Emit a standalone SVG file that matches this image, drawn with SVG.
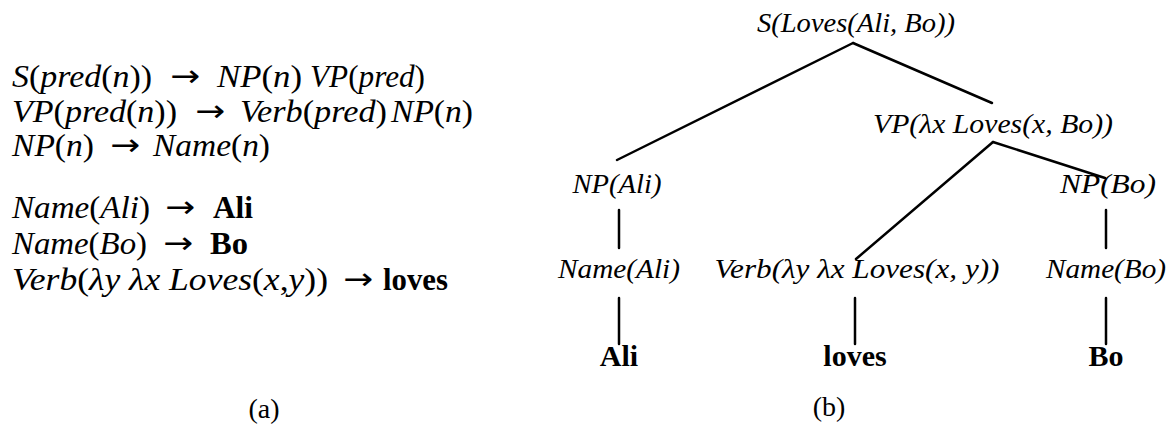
<svg xmlns="http://www.w3.org/2000/svg" width="1171" height="425" viewBox="0 0 1171 425">
<style>
text{font-family:"Liberation Serif",serif;fill:#000}
.r{font-size:32px;font-style:italic}
.u{font-style:normal}
.a{font-size:30px;font-family:"DejaVu Sans",sans-serif}
.b{font-size:32px;font-weight:bold}
.t{font-size:28px;font-style:italic;text-anchor:middle}
.leaf{font-size:30px;font-weight:bold;text-anchor:middle}
.cap{font-size:28px;text-anchor:middle}
.e line{stroke:#000;stroke-width:2.5;stroke-linecap:round}
</style>
<rect width="1171" height="425" fill="#fff"/>
<g id="rules">
<text class="r" x="12" y="87" textLength="140" lengthAdjust="spacingAndGlyphs">S<tspan class="u">(</tspan>pred<tspan class="u">(</tspan>n<tspan class="u">))</tspan></text>
<text class="a" x="170" y="86" textLength="30" lengthAdjust="spacingAndGlyphs">→</text>
<text class="r" x="217" y="87" textLength="85" lengthAdjust="spacingAndGlyphs">NP<tspan class="u">(</tspan>n<tspan class="u">)</tspan></text>
<text class="r" x="310" y="87" textLength="115" lengthAdjust="spacingAndGlyphs">VP<tspan class="u">(</tspan>pred<tspan class="u">)</tspan></text>

<text class="r" x="12" y="122" textLength="165" lengthAdjust="spacingAndGlyphs">VP<tspan class="u">(</tspan>pred<tspan class="u">(</tspan>n<tspan class="u">))</tspan></text>
<text class="a" x="195" y="121" textLength="30" lengthAdjust="spacingAndGlyphs">→</text>
<text class="r" x="240" y="122" textLength="147" lengthAdjust="spacingAndGlyphs">Verb<tspan class="u">(</tspan>pred<tspan class="u">)</tspan></text>
<text class="r" x="391" y="122" textLength="82" lengthAdjust="spacingAndGlyphs">NP<tspan class="u">(</tspan>n<tspan class="u">)</tspan></text>

<text class="r" x="12" y="156" textLength="82" lengthAdjust="spacingAndGlyphs">NP<tspan class="u">(</tspan>n<tspan class="u">)</tspan></text>
<text class="a" x="110" y="155" textLength="30" lengthAdjust="spacingAndGlyphs">→</text>
<text class="r" x="153" y="156" textLength="117" lengthAdjust="spacingAndGlyphs">Name<tspan class="u">(</tspan>n<tspan class="u">)</tspan></text>

<text class="r" x="12" y="218" textLength="138" lengthAdjust="spacingAndGlyphs">Name<tspan class="u">(</tspan>Ali<tspan class="u">)</tspan></text>
<text class="a" x="165" y="217" textLength="30" lengthAdjust="spacingAndGlyphs">→</text>
<text class="b" x="213" y="218" textLength="40" lengthAdjust="spacingAndGlyphs">Ali</text>

<text class="r" x="12" y="254" textLength="135" lengthAdjust="spacingAndGlyphs">Name<tspan class="u">(</tspan>Bo<tspan class="u">)</tspan></text>
<text class="a" x="163" y="253" textLength="30" lengthAdjust="spacingAndGlyphs">→</text>
<text class="b" x="210" y="254" textLength="38" lengthAdjust="spacingAndGlyphs">Bo</text>

<text class="r" x="12" y="290" textLength="316" lengthAdjust="spacingAndGlyphs">Verb<tspan class="u">(</tspan>λy λx Loves<tspan class="u">(</tspan>x<tspan class="u">,</tspan>y<tspan class="u">))</tspan></text>
<text class="a" x="343" y="289" textLength="30" lengthAdjust="spacingAndGlyphs">→</text>
<text class="b" x="383" y="290" textLength="65" lengthAdjust="spacingAndGlyphs">loves</text>

<text class="cap" x="264" y="418">(a)</text>
</g>
<g class="e" id="connectors">
<line x1="853" y1="43" x2="617" y2="160"/>
<line x1="853" y1="43" x2="992" y2="103"/>
<line x1="993" y1="142" x2="856" y2="259"/>
<line x1="993" y1="142" x2="1105" y2="178"/>
<line x1="619" y1="210" x2="619" y2="248"/>
<line x1="1106" y1="210" x2="1106" y2="248"/>
<line x1="619" y1="298" x2="619" y2="344"/>
<line x1="855" y1="298" x2="855" y2="344"/>
<line x1="1106" y1="298" x2="1106" y2="344"/>
</g>
<g id="n-s"><text class="t" x="856" y="32" textLength="198" lengthAdjust="spacingAndGlyphs">S(Loves(Ali, Bo))</text></g>
<g id="n-vp"><text class="t" x="993" y="133" textLength="240" lengthAdjust="spacingAndGlyphs">VP(λx Loves(x, Bo))</text></g>
<g id="n-np-ali"><text class="t" x="617" y="193" textLength="89" lengthAdjust="spacingAndGlyphs">NP(Ali)</text></g>
<g id="n-np-bo"><text class="t" x="1108" y="193" textLength="96" lengthAdjust="spacingAndGlyphs">NP(Bo)</text></g>
<g id="n-name-ali"><text class="t" x="619" y="278" textLength="122" lengthAdjust="spacingAndGlyphs">Name(Ali)</text></g>
<g id="n-verb"><text class="t" x="857" y="278" textLength="285" lengthAdjust="spacingAndGlyphs">Verb(λy λx Loves(x, y))</text></g>
<g id="n-name-bo"><text class="t" x="1106" y="278" textLength="120" lengthAdjust="spacingAndGlyphs">Name(Bo)</text></g>
<g id="n-ali"><text class="leaf" x="619" y="366">Ali</text></g>
<g id="n-loves"><text class="leaf" x="855" y="366">loves</text></g>
<g id="n-bo"><text class="leaf" x="1106" y="366">Bo</text></g>
<g id="cap-b"><text class="cap" x="829" y="416">(b)</text></g>
</svg>
